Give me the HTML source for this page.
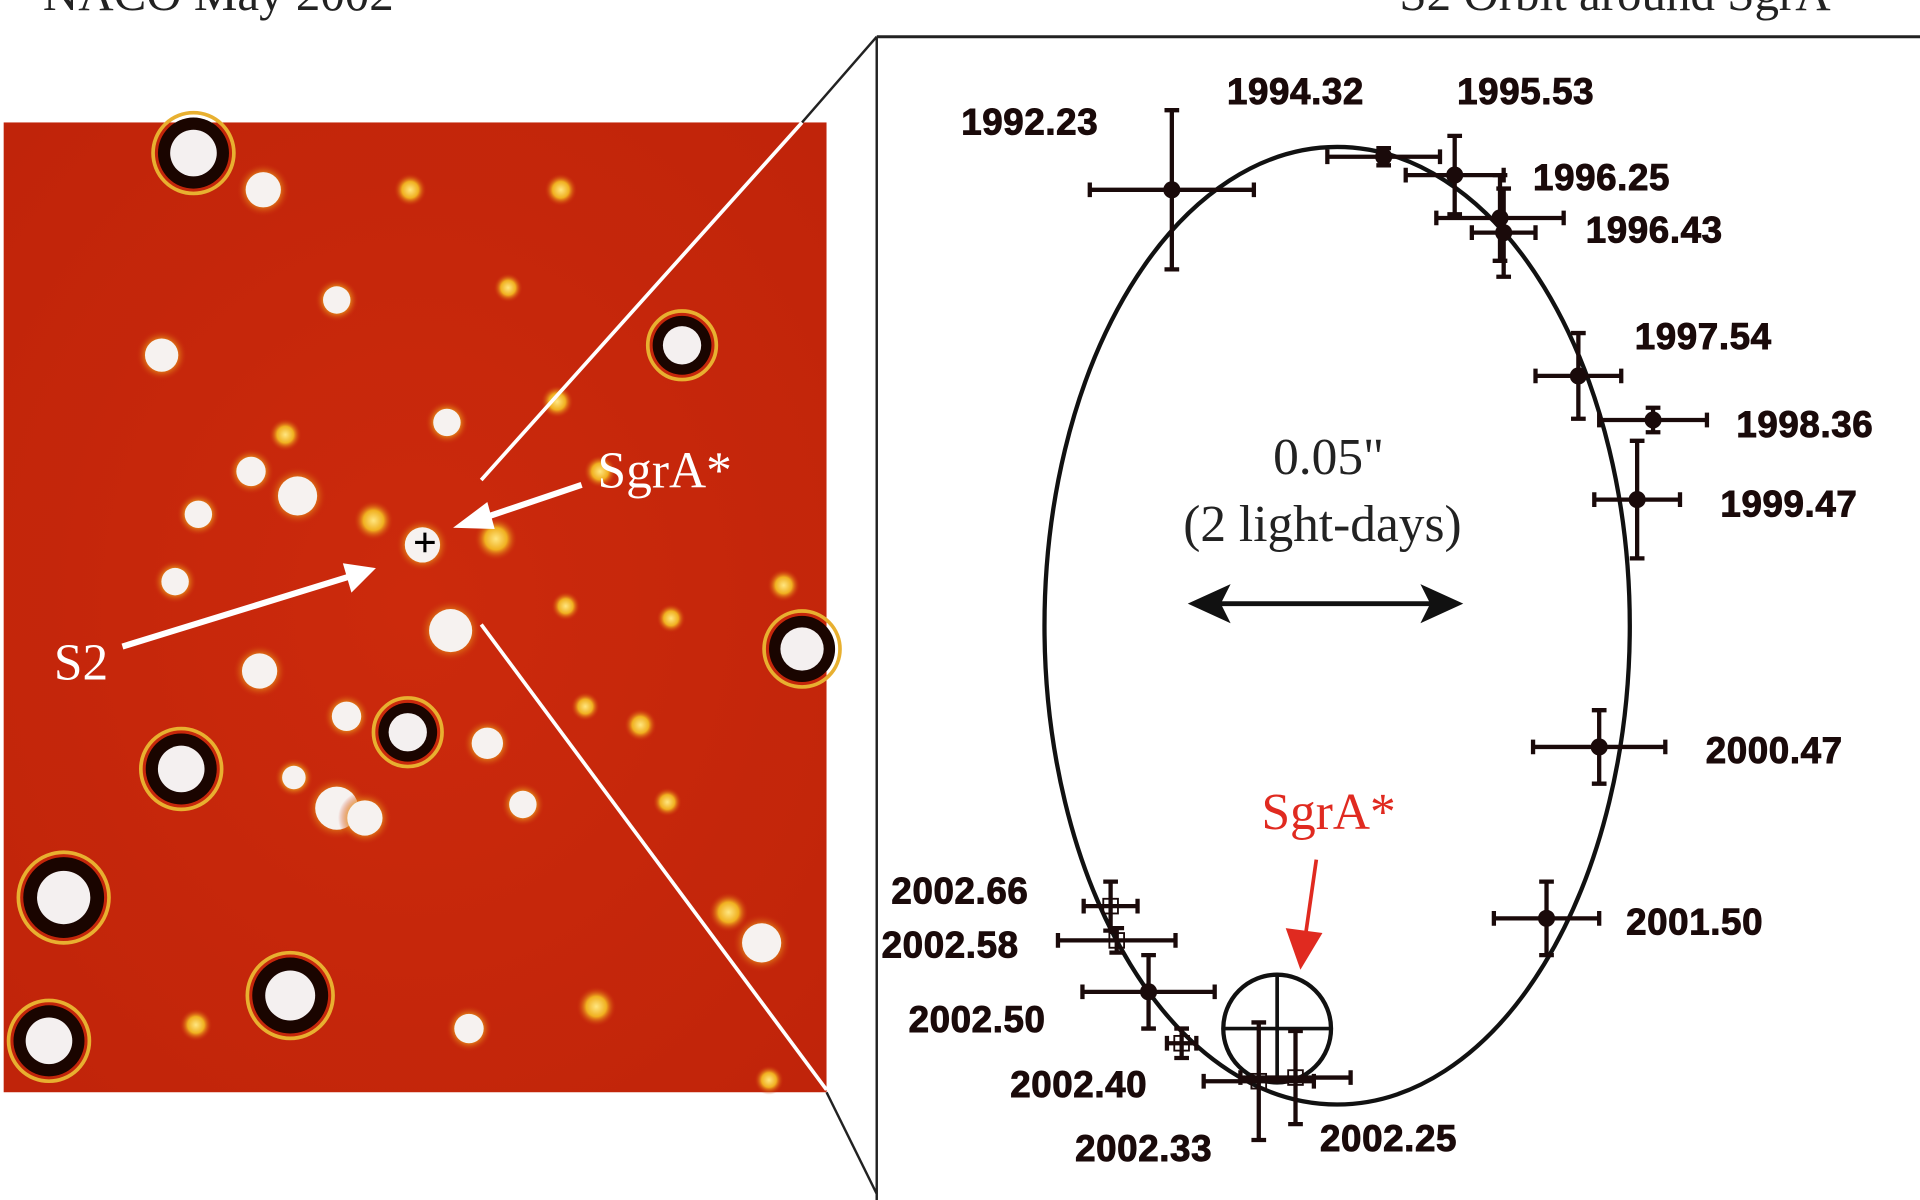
<!DOCTYPE html>
<html><head><meta charset="utf-8"><style>
html,body{margin:0;padding:0;background:#fff;}
svg{display:block;}
.lbl{font-family:"Liberation Sans",sans-serif;font-weight:bold;font-size:30px;fill:#1a0a0a;stroke:#1a0a0a;stroke-width:0.8px;letter-spacing:0.5px;}
.ser{font-family:"Liberation Serif",serif;}
</style></head><body>
<svg id="fig" width="1920" height="1200" viewBox="0 0 1568 980" xmlns="http://www.w3.org/2000/svg">
<defs>
<radialGradient id="yel"><stop offset="0" stop-color="#ffe680"/><stop offset="0.5" stop-color="#f0b020"/><stop offset="1" stop-color="#c8240a" stop-opacity="0"/></radialGradient>
<radialGradient id="bg" cx="0.5" cy="0.5" r="0.7"><stop offset="0" stop-color="#cc2a0c"/><stop offset="1" stop-color="#c0240a"/></radialGradient>
</defs>
<text class="ser" x="35" y="8" font-size="40" fill="#222">NACO May 2002</text>
<text class="ser" x="1515" y="8" font-size="40" fill="#222" text-anchor="end">S2 Orbit around SgrA*</text>
<rect x="3" y="100" width="672" height="792" fill="url(#bg)"/>
<g id="stars"></g>
<g>
<line x1="393" y1="392" x2="655" y2="100" stroke="#fff" stroke-width="3"/>
<line x1="393" y1="510" x2="675" y2="890" stroke="#fff" stroke-width="3"/>
<line x1="716" y1="30" x2="655" y2="100" stroke="#222" stroke-width="2"/>
<line x1="675" y1="892" x2="716" y2="975" stroke="#222" stroke-width="2"/>
<line x1="716" y1="30" x2="1568" y2="30" stroke="#222" stroke-width="2.5"/>
<line x1="716" y1="30" x2="716" y2="980" stroke="#222" stroke-width="2"/>
</g>
<path d="M339 443h16M347 435v16" stroke="#000" stroke-width="2.5"/>
<g><line x1="475" y1="396" x2="392" y2="424" stroke="#fff" stroke-width="5"/><polygon points="370,431 398,410 404,432" fill="#fff"/></g>
<g><line x1="100" y1="528" x2="285" y2="471" stroke="#fff" stroke-width="5"/><polygon points="307,464 280,460 287,484" fill="#fff"/></g>
<text class="ser" x="488" y="398" font-size="42" fill="#fff">SgrA*</text>
<text class="ser" x="44" y="555" font-size="42" fill="#fff">S2</text>
<ellipse cx="1092" cy="511" rx="239" ry="391" fill="none" stroke="#111" stroke-width="3.5"/>
<text class="ser" x="1085" y="387" font-size="42" fill="#222" text-anchor="middle">0.05"</text>
<text class="ser" x="1080" y="442" font-size="42" fill="#222" text-anchor="middle">(2 light-days)</text>
<g><line x1="985" y1="493" x2="1180" y2="493" stroke="#111" stroke-width="4"/><polygon points="970,493 1005,477 997,493 1005,509" fill="#111"/><polygon points="1195,493 1160,477 1168,493 1160,509" fill="#111"/></g>
<circle cx="1043" cy="840" r="44" fill="none" stroke="#111" stroke-width="3.5"/>
<path d="M999 840h88M1043 796v88" stroke="#111" stroke-width="3"/>
<text class="ser" x="1085" y="677" font-size="42" fill="#e02a20" text-anchor="middle">SgrA*</text>
<g><line x1="1075" y1="702" x2="1066" y2="765" stroke="#e02a20" stroke-width="3"/><polygon points="1062,792 1050,758 1080,762" fill="#e02a20"/></g>
<g id="pts"></g>
</svg>
<script>
var starX=[158,655,148,52,237,40,557,333,215,275,132,365,205,243,162,143,345,368,212,283,398,240,275,298,427,383,622,335,458,415,233,455,305,405,462,548,523,478,545,487,595,490,160,628,640];
var starY=[125,530,628,733,813,850,282,598,155,245,290,345,385,405,420,475,445,515,548,585,607,635,660,668,657,840,770,155,155,235,355,328,425,440,495,505,592,577,655,822,745,385,837,882,478];
var starR=[28,26,28,32,30,28,23,23,18,14,17,14,15,20,14,14,18,22,18,15,16,12,22,18,14,15,20,9,9,8,9,9,11,12,8,8,9,8,8,11,11,9,9,8,9];
var starT=[2,2,2,2,2,2,2,2,1,1,1,1,1,1,1,1,1,1,1,1,1,1,1,1,1,1,1,0,0,0,0,0,0,0,0,0,0,0,0,0,0,0,0,0,0];
var NS="http://www.w3.org/2000/svg";
var sg=document.getElementById('stars');
for(var i=0;i<starX.length;i++){
  var g=document.createElementNS(NS,'g');
  
  
  var r=starR[i];
  function c(rr,f,st,sw){var e=document.createElementNS(NS,'circle');e.setAttribute('cx',starX[i]);e.setAttribute('cy',starY[i]);e.setAttribute('r',rr);e.setAttribute('fill',f);if(st){e.setAttribute('stroke',st);e.setAttribute('stroke-width',sw);}g.appendChild(e);}
  if(starT[i]==2){c(r+5,'none','#e8b030',3);c(r+1,'#1a0500');c(r*0.68,'#f4f0f0');}
  else if(starT[i]==1){c(r+4,'url(#yel)');c(r*0.8,'#f6f2f0');}
  else{c(r*1.5,'url(#yel)');}
  sg.appendChild(g);
}
var labels=["1992.23","1994.32","1995.53","1996.25","1996.43","1997.54","1998.36","1999.47","2000.47","2001.50","2002.50","2002.66","2002.58","2002.40","2002.33","2002.25"];
var px=[957,1130,1188,1225,1228,1289,1350,1337,1306,1263,938,907,912,965,1028,1058];
var py=[155,128,143,178,190,307,343,408,610,750,810,740,768,852,883,880];
var ex=[67,46,40,52,26,35,44,35,54,43,54,22,48,12,45,45];
var ey=[65,7,32,35,36,35,10,48,30,30,30,20,10,12,48,38];
var filled=[1,1,1,1,1,1,1,1,1,1,1,0,0,0,0,0];
var lx=[785,1002,1190,1252,1295,1335,1418,1405,1393,1328,742,728,720,825,878,1078];
var ly=[110,85,85,155,198,285,357,422,623,763,843,738,782,896,948,940];
var pg=document.getElementById('pts');
for(var j=0;j<labels.length;j++){
  var g=document.createElementNS(NS,'g');
  
  
  var x=px[j],y=py[j],a=ex[j],b=ey[j];
  var d='M'+(x-a)+' '+y+'H'+(x+a)+'M'+x+' '+(y-b)+'V'+(y+b)+
    'M'+(x-a)+' '+(y-6)+'v12M'+(x+a)+' '+(y-6)+'v12M'+(x-6)+' '+(y-b)+'h12M'+(x-6)+' '+(y+b)+'h12';
  var p=document.createElementNS(NS,'path');p.setAttribute('d',d);p.setAttribute('stroke','#1a0a0a');p.setAttribute('stroke-width','3.5');p.setAttribute('fill','none');g.appendChild(p);
  if(filled[j]){var c2=document.createElementNS(NS,'circle');c2.setAttribute('cx',x);c2.setAttribute('cy',y);c2.setAttribute('r',7);c2.setAttribute('fill','#1a0a0a');g.appendChild(c2);}
  else{var rc=document.createElementNS(NS,'rect');rc.setAttribute('x',x-6);rc.setAttribute('y',y-6);rc.setAttribute('width',12);rc.setAttribute('height',12);rc.setAttribute('fill','none');rc.setAttribute('stroke','#1a0a0a');rc.setAttribute('stroke-width','1.5');g.appendChild(rc);}
  pg.appendChild(g);
  var t=document.createElementNS(NS,'text');
  
  
  t.setAttribute('class','lbl');t.setAttribute('x',lx[j]);t.setAttribute('y',ly[j]);t.textContent=labels[j];
  pg.appendChild(t);
}
</script>
</body></html>
